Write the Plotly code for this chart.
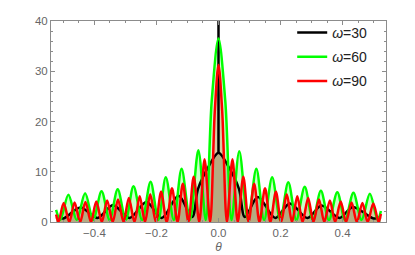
import plotly.graph_objects as go

# ---- data (theta, intensity) ----
theta_w30 = [-0.5236, -0.500, -0.445, -0.390, -0.340, -0.287, -0.232, -0.183, -0.129, -0.085,
             -0.066, -0.034, 0.000, 0.034, 0.066, 0.085, 0.127, 0.183, 0.230, 0.287,
             0.332, 0.390, 0.433, 0.500, 0.5236]
val_w30 = [1.0, 0.7, 2.9, 0.8, 3.4, 0.8, 4.0, 0.8, 5.2, 1.0,
           6.6, 10.8, 13.8, 10.8, 6.6, 1.0, 5.0, 0.8, 3.7, 0.8,
           3.3, 0.8, 3.0, 0.7, 1.0]
spike_theta_w30 = [0.0, 0.0]
spike_val_w30 = [13.8, 60.0]

theta_w60 = [-0.5236, -0.510, -0.484, -0.457, -0.430, -0.404, -0.377, -0.351, -0.325, -0.299,
             -0.274, -0.246, -0.219, -0.194, -0.170, -0.144, -0.119, -0.092, -0.065, -0.041,
             -0.022, 0.000, 0.022, 0.042, 0.067, 0.095, 0.122, 0.147, 0.173, 0.199,
             0.225, 0.251, 0.278, 0.304, 0.330, 0.356, 0.383, 0.408, 0.435, 0.461,
             0.488, 0.513, 0.5236]
val_w60 = [2.4, 0.4, 5.4, 0.4, 5.7, 0.4, 6.1, 0.4, 6.5, 0.4,
           7.1, 0.4, 8.0, 0.4, 8.9, 0.4, 10.6, 0.4, 14.3, 0.4,
           24.0, 36.5, 24.0, 0.4, 14.1, 0.4, 10.6, 0.4, 8.9, 0.4,
           7.9, 0.4, 7.0, 0.4, 6.2, 0.4, 5.9, 0.4, 5.8, 0.4,
           5.6, 0.4, 2.2]

theta_w90 = [-0.5236, -0.516, -0.499, -0.481, -0.464, -0.446, -0.429, -0.411, -0.394, -0.376,
             -0.359, -0.341, -0.324, -0.306, -0.289, -0.271, -0.254, -0.237, -0.220, -0.202,
             -0.185, -0.167, -0.150, -0.132, -0.115, -0.097, -0.080, -0.062, -0.045, -0.027,
             -0.012, 0.000, 0.012, 0.027, 0.045, 0.062, 0.080, 0.097, 0.115, 0.132,
             0.150, 0.167, 0.185, 0.202, 0.220, 0.237, 0.254, 0.271, 0.289, 0.306,
             0.324, 0.341, 0.359, 0.376, 0.394, 0.411, 0.429, 0.446, 0.464, 0.481,
             0.499, 0.516, 0.5236]
val_w90 = [1.5, 0.0, 3.8, 0.0, 3.9, 0.0, 4.0, 0.0, 4.1, 0.0,
           4.3, 0.0, 4.5, 0.0, 4.8, 0.0, 5.1, 0.0, 5.5, 0.0,
           6.0, 0.0, 6.7, 0.0, 7.6, 0.0, 9.0, 0.0, 12.5, 0.0,
           22.0, 31.3, 22.0, 0.0, 12.5, 0.0, 9.0, 0.0, 7.6, 0.0,
           6.7, 0.0, 6.0, 0.0, 5.5, 0.0, 5.1, 0.0, 4.8, 0.0,
           4.5, 0.0, 4.3, 0.0, 4.1, 0.0, 3.9, 0.0, 3.8, 0.0,
           3.7, 0.0, 1.6]

series = [
    ("<i>ω</i>=30", theta_w30, val_w30, "#000000", "rgba(0,0,0,0.2)"),
    ("<i>ω</i>=60", theta_w60, val_w60, "#00ff00", "rgba(0,255,0,0.2)"),
    ("<i>ω</i>=90", theta_w90, val_w90, "#ff0000", "rgba(255,0,0,0.2)"),
]

x_ticks = [-0.4, -0.2, 0.0, 0.2, 0.4]
y_ticks = [0, 10, 20, 30, 40]

fig = go.Figure()

# fills first
for name, th, v, col, fcol in series:
    fig.add_trace(go.Scatter(x=th, y=v, mode="lines", fill="tozeroy", fillcolor=fcol,
                             line=dict(width=0, shape="spline", smoothing=0.9),
                             showlegend=False, hoverinfo="skip"))

# lines
for i, (name, th, v, col, fcol) in enumerate(series):
    fig.add_trace(go.Scatter(x=th, y=v, mode="lines", name=name, legendgroup=f"g{i}",
                             line=dict(color=col, width=2.5, shape="spline", smoothing=0.9)))
    if i == 0:
        fig.add_trace(go.Scatter(x=spike_theta_w30, y=spike_val_w30, mode="lines",
                                 line=dict(color=col, width=2.5), legendgroup="g0",
                                 showlegend=False, hoverinfo="skip"))

frame = "#8c8c8c"
tickfont = dict(family="Liberation Sans, Arial, sans-serif", size=11.5, color="#666666")

fig.update_layout(
    width=415, height=255,
    margin=dict(l=43, r=37, t=7, b=41),
    paper_bgcolor="white", plot_bgcolor="white",
    font=dict(family="Liberation Sans, Arial, sans-serif"),
    legend=dict(x=0.72, y=1.02, xanchor="left", yanchor="top",
                bgcolor="rgba(0,0,0,0)", tracegroupgap=3,
                font=dict(size=14, color="#222222")),
    xaxis=dict(range=[-0.54, 0.54], tickvals=x_ticks, tickformat=".1f",
               ticks="inside", ticklen=4, tickcolor=frame, tickfont=tickfont,
               showline=True, linecolor=frame, linewidth=1, mirror="ticks",
               showgrid=False, zeroline=False,
               minor=dict(ticks="inside", ticklen=2, dtick=0.05, tick0=0, tickcolor=frame, showgrid=False),
               title=dict(text="<i>θ</i>", font=dict(size=12, color="#666666"), standoff=4)),
    yaxis=dict(range=[0, 40], tickvals=y_ticks,
               ticks="inside", ticklen=4, tickcolor=frame, tickfont=tickfont,
               showline=True, linecolor=frame, linewidth=1, mirror="ticks",
               showgrid=False, zeroline=False,
               minor=dict(ticks="inside", ticklen=2, dtick=2, tick0=0, tickcolor=frame, showgrid=False)),
)

fig.write_html("out.html")
